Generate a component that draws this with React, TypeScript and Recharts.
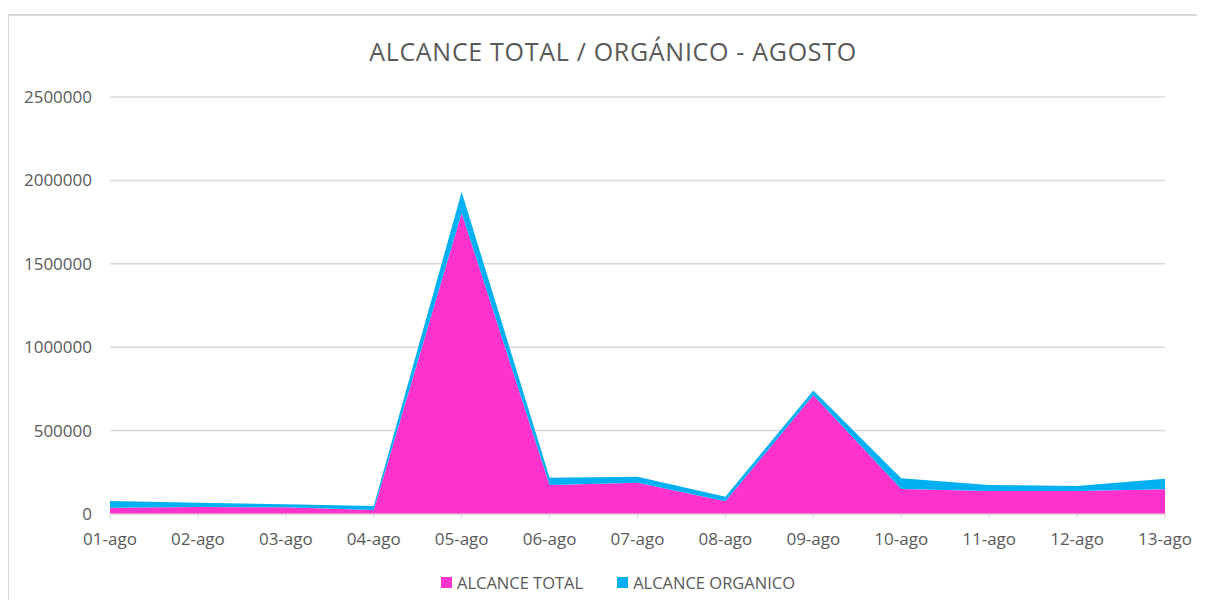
import { AreaChart, Area, XAxis, YAxis, CartesianGrid } from 'recharts';

const fechas = ['01-ago', '02-ago', '03-ago', '04-ago', '05-ago', '06-ago', '07-ago', '08-ago', '09-ago', '10-ago', '11-ago', '12-ago', '13-ago'];
const alcanceTotal = [38000, 42000, 40000, 24000, 1804000, 174000, 188000, 76000, 712000, 150000, 138000, 138000, 148000];
const alcanceOrganico = [40000, 26000, 18000, 24000, 126000, 44000, 36000, 28000, 28000, 65000, 36000, 30000, 64000];
const yTicks = [0, 500000, 1000000, 1500000, 2000000, 2500000];

const data = fechas.map((fecha, i) => ({
  fecha,
  total: alcanceTotal[i],
  organico: alcanceOrganico[i],
}));

const FONT = '"Open Sans", sans-serif';

const legendItems = [
  { name: 'ALCANCE TOTAL', color: '#FF33CC' },
  { name: 'ALCANCE ORGANICO', color: '#00B0F0' },
];

const App = () => {
  return (
    <div style={{ position: 'relative', width: 1197, height: 592, overflow: 'hidden' }}>
      <div
        style={{
          position: 'absolute',
          left: -1,
          top: 6,
          width: 1250,
          height: 700,
          borderTop: '2px solid #d9d9d9',
          borderLeft: '2px solid #d9d9d9',
        }}
      />
      <div
        style={{
          position: 'absolute',
          left: 0,
          top: 26,
          width: 1210,
          textAlign: 'center',
          fontFamily: FONT,
          fontSize: 25,
          letterSpacing: 0.7,
          color: '#595959',
        }}
      >
        ALCANCE TOTAL / ORGÁNICO - AGOSTO
      </div>
      <AreaChart width={1197} height={592} data={data} margin={{ top: 89, right: 40, bottom: 46, left: 22 }}>
        <CartesianGrid vertical={false} stroke="#d9d9d9" strokeWidth={1.5} />
        <XAxis
          dataKey="fecha"
          stroke="#d9d9d9"
          height={40}
          tickSize={5}
          tickMargin={14}
          tick={{ fill: '#595959', fontSize: 17, fontFamily: FONT }}
          interval={0}
        />
        <YAxis
          width={80}
          domain={[0, 2500000]}
          ticks={yTicks}
          axisLine={false}
          tickLine={false}
          tickSize={6}
          tickMargin={12}
          tick={{ fill: '#595959', fontSize: 17, fontFamily: FONT }}
        />
        <Area
          type="linear"
          dataKey="total"
          name="ALCANCE TOTAL"
          stackId="1"
          stroke="none"
          fill="#FF33CC"
          fillOpacity={1}
          isAnimationActive={false}
        />
        <Area
          type="linear"
          dataKey="organico"
          name="ALCANCE ORGANICO"
          stackId="1"
          stroke="none"
          fill="#00B0F0"
          fillOpacity={1}
          isAnimationActive={false}
        />
      </AreaChart>
      <div
        style={{
          position: 'absolute',
          left: 0,
          top: 563,
          width: 1220,
          display: 'flex',
          justifyContent: 'center',
          gap: 34,
          fontFamily: FONT,
          fontSize: 16.5,
          color: '#595959',
        }}
      >
        {legendItems.map((item) => (
          <div key={item.name} style={{ display: 'flex', alignItems: 'center' }}>
            <span style={{ width: 11, height: 11, background: item.color, marginRight: 5, display: 'inline-block' }} />
            {item.name}
          </div>
        ))}
      </div>
    </div>
  );
};

export default App;
